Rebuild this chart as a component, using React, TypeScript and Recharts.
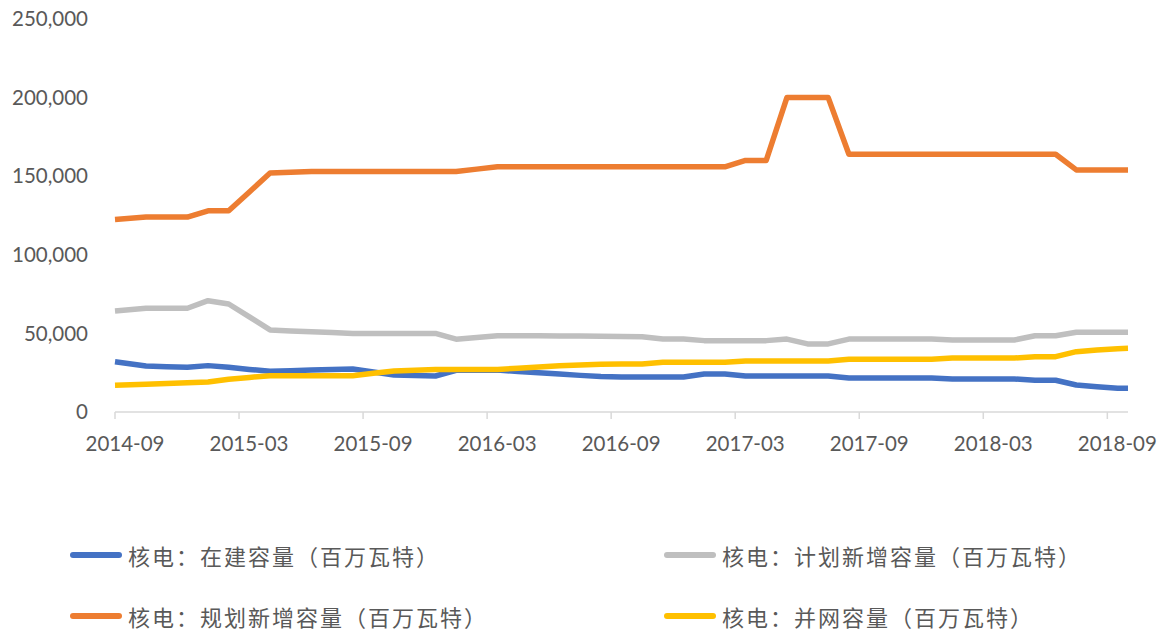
import { LineChart, Line, XAxis, YAxis } from 'recharts';

// month offsets from 2014-09 (data points sit mid-month after the first one)
const monthIdx = [
  0, 1.5, 2.5, 3.5, 4.5, 5.5, 6.5, 7.5, 8.5, 9.5, 10.5, 11.5, 12.5, 13.5, 14.5, 15.5, 16.5,
  17.5, 18.5, 19.5, 20.5, 21.5, 22.5, 23.5, 24.5, 25.5, 26.5, 27.5, 28.5, 29.5, 30.5, 31.5,
  32.5, 33.5, 34.5, 35.5, 36.5, 37.5, 38.5, 39.5, 40.5, 41.5, 42.5, 43.5, 44.5, 45.5, 46.5,
  47.5, 48.5, 49,
];

const tickLabels = ['2014-09', '2015-03', '2015-09', '2016-03', '2016-09', '2017-03', '2017-09', '2018-03', '2018-09'];
const xTicks = [0, 6, 12, 18, 24, 30, 36, 42, 48];
const yTicks = [0, 50000, 100000, 150000, 200000, 250000];

// 核电：在建容量
const underConstruction = [
  32000, 29300, 28800, 28400, 29500, 28400, 27100, 25900, 26300, 26700, 27000, 27400, 25500,
  23500, 23200, 22900, 26500, 26600, 26700, 25800, 24900, 24100, 23300, 22600, 22300, 22300,
  22300, 22300, 24200, 24200, 22900, 22900, 22900, 22900, 22900, 21600, 21600, 21600, 21600,
  21600, 21000, 21000, 21000, 21000, 20200, 20200, 17200, 16100, 15100, 15100,
];

// 核电：计划新增容量
const plannedNew = [
  64200, 66000, 66000, 66000, 70800, 68700, 60500, 52200, 51600, 51000, 50500, 50000, 50000,
  50000, 50000, 50000, 46300, 47400, 48500, 48500, 48500, 48400, 48300, 48200, 48100, 47900,
  46400, 46400, 45400, 45400, 45400, 45400, 46400, 43300, 43300, 46400, 46400, 46400, 46400,
  46400, 45800, 45800, 45800, 45800, 48500, 48500, 50700, 50700, 50700, 50700,
];

// 核电：规划新增容量
const programmedNew = [
  122500, 124000, 124000, 124000, 128000, 128000, 140000, 152000, 152500, 153000, 153000,
  153000, 153000, 153000, 153000, 153000, 153000, 154500, 156000, 156000, 156000, 156000,
  156000, 156000, 156000, 156000, 156000, 156000, 156000, 156000, 160000, 160000, 200000,
  200000, 200000, 164000, 164000, 164000, 164000, 164000, 164000, 164000, 164000, 164000,
  164000, 164000, 154000, 154000, 154000, 154000,
];

// 核电：并网容量
const gridConnected = [
  17000, 17700, 18200, 18600, 19100, 20800, 22000, 23100, 23100, 23100, 23100, 23100, 24600,
  26100, 26600, 27100, 27100, 27100, 27100, 27800, 28600, 29400, 29900, 30300, 30500, 30500,
  31600, 31600, 31600, 31600, 32400, 32400, 32400, 32400, 32400, 33500, 33500, 33500, 33500,
  33500, 34300, 34300, 34300, 34300, 35200, 35200, 38400, 39400, 40300, 40500,
];

const series = [
  { key: 'construct', name: '核电：在建容量（百万瓦特）', color: '#4472C4', values: underConstruction },
  { key: 'plan', name: '核电：计划新增容量（百万瓦特）', color: '#BFBFBF', values: plannedNew },
  { key: 'program', name: '核电：规划新增容量（百万瓦特）', color: '#ED7D31', values: programmedNew },
  { key: 'grid', name: '核电：并网容量（百万瓦特）', color: '#FFC000', values: gridConnected },
];

const data = monthIdx.map((m, i) => {
  const row: Record<string, number> = { m };
  series.forEach((s) => {
    row[s.key] = s.values[i];
  });
  return row;
});

const axisFont = { fill: '#595959', fontSize: 20.5, fontFamily: 'Lato, "Liberation Sans", sans-serif' };

export default function App() {
  return (
    <div style={{ position: 'relative', width: 1163, height: 633, background: '#fff', overflow: 'hidden' }}>
      <style>{'body{margin:0}'}</style>
      <LineChart width={1163} height={480} data={data} margin={{ top: 19, right: 35, left: 10, bottom: 0 }}>
        <XAxis
          dataKey="m"
          type="number"
          domain={[0, 49]}
          ticks={xTicks}
          interval={0}
          tickFormatter={(v: number) => tickLabels[v / 6]}
          axisLine={{ stroke: '#d9d9d9', strokeWidth: 1.5 }}
          tickLine={{ stroke: '#d9d9d9', strokeWidth: 1.5 }}
          tickSize={7}
          tickMargin={17}
          height={68}
          tick={{ ...axisFont, dx: 10 }}
        />
        <YAxis
          domain={[0, 250000]}
          ticks={yTicks}
          interval={0}
          axisLine={false}
          tickLine={false}
          tickSize={0}
          tickMargin={27}
          width={105}
          tickFormatter={(v: number) => v.toLocaleString('en-US')}
          tick={axisFont}
        />
        {series.map((s) => (
          <Line
            key={s.key}
            dataKey={s.key}
            type="linear"
            stroke={s.color}
            strokeWidth={5.5}
            strokeLinejoin="round"
            dot={false}
            activeDot={false}
            isAnimationActive={false}
          />
        ))}
      </LineChart>
      {series.map((s, i) => (
        <div
          key={s.key}
          style={{
            position: 'absolute',
            left: i % 2 === 0 ? 70 : 664,
            top: i < 2 ? 555 - 12 : 616 - 12,
            height: 24,
            display: 'flex',
            alignItems: 'center',
            fontFamily: '"Noto Sans CJK SC", sans-serif',
            fontSize: 22,
            lineHeight: '24px',
            letterSpacing: 2,
            color: '#595959',
            whiteSpace: 'nowrap',
          }}
        >
          <span style={{ display: 'inline-block', width: 52, height: 6, borderRadius: 3, background: s.color, marginRight: 6 }} />
          <span>{s.name}</span>
        </div>
      ))}
    </div>
  );
}
